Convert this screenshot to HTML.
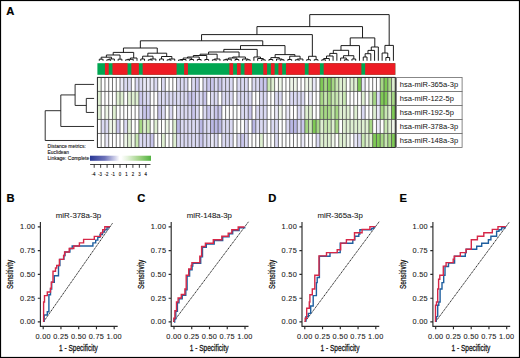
<!DOCTYPE html>
<html><head><meta charset="utf-8"><style>
html,body{margin:0;padding:0;background:#fff;width:520px;height:358px;overflow:hidden;font-family:"Liberation Sans",sans-serif;}
svg{display:block;}
</style></head><body>
<svg width="520" height="358" viewBox="0 0 520 358" font-family="Liberation Sans, sans-serif"><rect x="0" y="0" width="520" height="358" fill="#fff"/>
<rect x="97.40" y="63.2" width="297.91" height="11.6" fill="#00a651"/>
<rect x="104.94" y="63.2" width="3.77" height="11.6" fill="#ed1c24"/>
<rect x="112.48" y="63.2" width="15.08" height="11.6" fill="#ed1c24"/>
<rect x="131.34" y="63.2" width="7.54" height="11.6" fill="#ed1c24"/>
<rect x="142.65" y="63.2" width="33.94" height="11.6" fill="#ed1c24"/>
<rect x="184.13" y="63.2" width="3.77" height="11.6" fill="#ed1c24"/>
<rect x="229.38" y="63.2" width="3.77" height="11.6" fill="#ed1c24"/>
<rect x="236.93" y="63.2" width="3.77" height="11.6" fill="#ed1c24"/>
<rect x="244.47" y="63.2" width="7.54" height="11.6" fill="#ed1c24"/>
<rect x="263.32" y="63.2" width="3.77" height="11.6" fill="#ed1c24"/>
<rect x="270.87" y="63.2" width="3.77" height="11.6" fill="#ed1c24"/>
<rect x="278.41" y="63.2" width="3.77" height="11.6" fill="#ed1c24"/>
<rect x="285.95" y="63.2" width="18.86" height="11.6" fill="#ed1c24"/>
<rect x="308.58" y="63.2" width="11.31" height="11.6" fill="#ed1c24"/>
<rect x="323.66" y="63.2" width="37.71" height="11.6" fill="#ed1c24"/>
<rect x="365.14" y="63.2" width="30.17" height="11.6" fill="#ed1c24"/>
<rect x="97.40" y="77.40" width="3.77" height="14.02" fill="#eff7e9"/>
<rect x="120.03" y="77.40" width="3.77" height="14.02" fill="#eae9f8"/>
<rect x="123.80" y="77.40" width="3.77" height="14.02" fill="#dbdaf3"/>
<rect x="127.57" y="77.40" width="3.77" height="14.02" fill="#dbdaf3"/>
<rect x="135.11" y="77.40" width="3.77" height="14.02" fill="#dbdaf3"/>
<rect x="138.88" y="77.40" width="3.77" height="14.02" fill="#dbdaf3"/>
<rect x="142.65" y="77.40" width="3.77" height="14.02" fill="#eae9f8"/>
<rect x="146.42" y="77.40" width="3.77" height="14.02" fill="#eae9f8"/>
<rect x="150.19" y="77.40" width="3.77" height="14.02" fill="#eae9f8"/>
<rect x="153.97" y="77.40" width="3.77" height="14.02" fill="#dbdaf3"/>
<rect x="161.51" y="77.40" width="3.77" height="14.02" fill="#dbdaf3"/>
<rect x="176.59" y="77.40" width="3.77" height="14.02" fill="#dbdaf3"/>
<rect x="180.36" y="77.40" width="3.77" height="14.02" fill="#dbdaf3"/>
<rect x="184.13" y="77.40" width="3.77" height="14.02" fill="#dbdaf3"/>
<rect x="191.68" y="77.40" width="3.77" height="14.02" fill="#dbdaf3"/>
<rect x="195.45" y="77.40" width="3.77" height="14.02" fill="#c9c6ec"/>
<rect x="202.99" y="77.40" width="3.77" height="14.02" fill="#dbdaf3"/>
<rect x="206.76" y="77.40" width="3.77" height="14.02" fill="#c9c6ec"/>
<rect x="210.53" y="77.40" width="3.77" height="14.02" fill="#c9c6ec"/>
<rect x="214.30" y="77.40" width="3.77" height="14.02" fill="#dbdaf3"/>
<rect x="218.07" y="77.40" width="3.77" height="14.02" fill="#c9c6ec"/>
<rect x="221.84" y="77.40" width="3.77" height="14.02" fill="#dbdaf3"/>
<rect x="225.61" y="77.40" width="3.77" height="14.02" fill="#dbdaf3"/>
<rect x="229.38" y="77.40" width="3.77" height="14.02" fill="#dbdaf3"/>
<rect x="236.93" y="77.40" width="3.77" height="14.02" fill="#dbdaf3"/>
<rect x="240.70" y="77.40" width="3.77" height="14.02" fill="#dbdaf3"/>
<rect x="244.47" y="77.40" width="3.77" height="14.02" fill="#dbdaf3"/>
<rect x="252.01" y="77.40" width="3.77" height="14.02" fill="#dbdaf3"/>
<rect x="255.78" y="77.40" width="3.77" height="14.02" fill="#dbdaf3"/>
<rect x="259.55" y="77.40" width="3.77" height="14.02" fill="#c9c6ec"/>
<rect x="263.32" y="77.40" width="3.77" height="14.02" fill="#c9c6ec"/>
<rect x="267.10" y="77.40" width="3.77" height="14.02" fill="#c8e8b2"/>
<rect x="270.87" y="77.40" width="3.77" height="14.02" fill="#dff0d2"/>
<rect x="278.41" y="77.40" width="3.77" height="14.02" fill="#eff7e9"/>
<rect x="289.72" y="77.40" width="3.77" height="14.02" fill="#eff7e9"/>
<rect x="293.49" y="77.40" width="3.77" height="14.02" fill="#eff7e9"/>
<rect x="304.81" y="77.40" width="3.77" height="14.02" fill="#eff7e9"/>
<rect x="308.58" y="77.40" width="3.77" height="14.02" fill="#eff7e9"/>
<rect x="312.35" y="77.40" width="3.77" height="14.02" fill="#eae9f8"/>
<rect x="319.89" y="77.40" width="3.77" height="14.02" fill="#7fca55"/>
<rect x="323.66" y="77.40" width="3.77" height="14.02" fill="#a6d885"/>
<rect x="327.43" y="77.40" width="3.77" height="14.02" fill="#7fca55"/>
<rect x="331.20" y="77.40" width="3.77" height="14.02" fill="#a6d885"/>
<rect x="334.97" y="77.40" width="3.77" height="14.02" fill="#c8e8b2"/>
<rect x="338.74" y="77.40" width="3.77" height="14.02" fill="#dff0d2"/>
<rect x="342.51" y="77.40" width="3.77" height="14.02" fill="#dff0d2"/>
<rect x="350.06" y="77.40" width="3.77" height="14.02" fill="#dff0d2"/>
<rect x="353.83" y="77.40" width="3.77" height="14.02" fill="#dff0d2"/>
<rect x="357.60" y="77.40" width="3.77" height="14.02" fill="#7fca55"/>
<rect x="361.37" y="77.40" width="3.77" height="14.02" fill="#eae9f8"/>
<rect x="380.23" y="77.40" width="3.77" height="14.02" fill="#a6d885"/>
<rect x="384.00" y="77.40" width="3.77" height="14.02" fill="#7fca55"/>
<rect x="387.77" y="77.40" width="3.77" height="14.02" fill="#a6d885"/>
<rect x="391.54" y="77.40" width="3.77" height="14.02" fill="#dff0d2"/>
<rect x="97.40" y="91.42" width="3.77" height="14.02" fill="#dff0d2"/>
<rect x="116.26" y="91.42" width="3.77" height="14.02" fill="#dff0d2"/>
<rect x="120.03" y="91.42" width="3.77" height="14.02" fill="#dff0d2"/>
<rect x="127.57" y="91.42" width="3.77" height="14.02" fill="#dff0d2"/>
<rect x="131.34" y="91.42" width="3.77" height="14.02" fill="#dff0d2"/>
<rect x="135.11" y="91.42" width="3.77" height="14.02" fill="#dff0d2"/>
<rect x="138.88" y="91.42" width="3.77" height="14.02" fill="#c9c6ec"/>
<rect x="142.65" y="91.42" width="3.77" height="14.02" fill="#dbdaf3"/>
<rect x="146.42" y="91.42" width="3.77" height="14.02" fill="#dbdaf3"/>
<rect x="157.74" y="91.42" width="3.77" height="14.02" fill="#dbdaf3"/>
<rect x="161.51" y="91.42" width="3.77" height="14.02" fill="#dbdaf3"/>
<rect x="165.28" y="91.42" width="3.77" height="14.02" fill="#dbdaf3"/>
<rect x="169.05" y="91.42" width="3.77" height="14.02" fill="#dbdaf3"/>
<rect x="172.82" y="91.42" width="3.77" height="14.02" fill="#dbdaf3"/>
<rect x="176.59" y="91.42" width="3.77" height="14.02" fill="#dbdaf3"/>
<rect x="180.36" y="91.42" width="3.77" height="14.02" fill="#dbdaf3"/>
<rect x="184.13" y="91.42" width="3.77" height="14.02" fill="#dbdaf3"/>
<rect x="187.90" y="91.42" width="3.77" height="14.02" fill="#c9c6ec"/>
<rect x="191.68" y="91.42" width="3.77" height="14.02" fill="#c9c6ec"/>
<rect x="195.45" y="91.42" width="3.77" height="14.02" fill="#dbdaf3"/>
<rect x="199.22" y="91.42" width="3.77" height="14.02" fill="#dbdaf3"/>
<rect x="202.99" y="91.42" width="3.77" height="14.02" fill="#c9c6ec"/>
<rect x="210.53" y="91.42" width="3.77" height="14.02" fill="#dbdaf3"/>
<rect x="214.30" y="91.42" width="3.77" height="14.02" fill="#dbdaf3"/>
<rect x="221.84" y="91.42" width="3.77" height="14.02" fill="#dbdaf3"/>
<rect x="225.61" y="91.42" width="3.77" height="14.02" fill="#dbdaf3"/>
<rect x="229.38" y="91.42" width="3.77" height="14.02" fill="#dbdaf3"/>
<rect x="236.93" y="91.42" width="3.77" height="14.02" fill="#dbdaf3"/>
<rect x="240.70" y="91.42" width="3.77" height="14.02" fill="#dbdaf3"/>
<rect x="244.47" y="91.42" width="3.77" height="14.02" fill="#dbdaf3"/>
<rect x="248.24" y="91.42" width="3.77" height="14.02" fill="#dbdaf3"/>
<rect x="259.55" y="91.42" width="3.77" height="14.02" fill="#dbdaf3"/>
<rect x="263.32" y="91.42" width="3.77" height="14.02" fill="#dbdaf3"/>
<rect x="274.64" y="91.42" width="3.77" height="14.02" fill="#dbdaf3"/>
<rect x="278.41" y="91.42" width="3.77" height="14.02" fill="#dbdaf3"/>
<rect x="289.72" y="91.42" width="3.77" height="14.02" fill="#dbdaf3"/>
<rect x="293.49" y="91.42" width="3.77" height="14.02" fill="#dbdaf3"/>
<rect x="297.26" y="91.42" width="3.77" height="14.02" fill="#dbdaf3"/>
<rect x="301.03" y="91.42" width="3.77" height="14.02" fill="#dbdaf3"/>
<rect x="308.58" y="91.42" width="3.77" height="14.02" fill="#eae9f8"/>
<rect x="319.89" y="91.42" width="3.77" height="14.02" fill="#a6d885"/>
<rect x="323.66" y="91.42" width="3.77" height="14.02" fill="#c8e8b2"/>
<rect x="327.43" y="91.42" width="3.77" height="14.02" fill="#a6d885"/>
<rect x="331.20" y="91.42" width="3.77" height="14.02" fill="#c8e8b2"/>
<rect x="334.97" y="91.42" width="3.77" height="14.02" fill="#c8e8b2"/>
<rect x="338.74" y="91.42" width="3.77" height="14.02" fill="#dff0d2"/>
<rect x="342.51" y="91.42" width="3.77" height="14.02" fill="#c8e8b2"/>
<rect x="361.37" y="91.42" width="3.77" height="14.02" fill="#dff0d2"/>
<rect x="368.91" y="91.42" width="3.77" height="14.02" fill="#dff0d2"/>
<rect x="372.68" y="91.42" width="3.77" height="14.02" fill="#a6d885"/>
<rect x="376.45" y="91.42" width="3.77" height="14.02" fill="#dbdaf3"/>
<rect x="380.23" y="91.42" width="3.77" height="14.02" fill="#7fca55"/>
<rect x="384.00" y="91.42" width="3.77" height="14.02" fill="#7fca55"/>
<rect x="387.77" y="91.42" width="3.77" height="14.02" fill="#c8e8b2"/>
<rect x="391.54" y="91.42" width="3.77" height="14.02" fill="#a6d885"/>
<rect x="97.40" y="105.44" width="3.77" height="14.02" fill="#dff0d2"/>
<rect x="104.94" y="105.44" width="3.77" height="14.02" fill="#eff7e9"/>
<rect x="112.48" y="105.44" width="3.77" height="14.02" fill="#dff0d2"/>
<rect x="138.88" y="105.44" width="3.77" height="14.02" fill="#dbdaf3"/>
<rect x="142.65" y="105.44" width="3.77" height="14.02" fill="#c9c6ec"/>
<rect x="146.42" y="105.44" width="3.77" height="14.02" fill="#c9c6ec"/>
<rect x="157.74" y="105.44" width="3.77" height="14.02" fill="#c9c6ec"/>
<rect x="161.51" y="105.44" width="3.77" height="14.02" fill="#dbdaf3"/>
<rect x="169.05" y="105.44" width="3.77" height="14.02" fill="#dbdaf3"/>
<rect x="176.59" y="105.44" width="3.77" height="14.02" fill="#dbdaf3"/>
<rect x="180.36" y="105.44" width="3.77" height="14.02" fill="#dbdaf3"/>
<rect x="184.13" y="105.44" width="3.77" height="14.02" fill="#dbdaf3"/>
<rect x="187.90" y="105.44" width="3.77" height="14.02" fill="#dbdaf3"/>
<rect x="191.68" y="105.44" width="3.77" height="14.02" fill="#c9c6ec"/>
<rect x="195.45" y="105.44" width="3.77" height="14.02" fill="#dbdaf3"/>
<rect x="202.99" y="105.44" width="3.77" height="14.02" fill="#dbdaf3"/>
<rect x="206.76" y="105.44" width="3.77" height="14.02" fill="#c9c6ec"/>
<rect x="210.53" y="105.44" width="3.77" height="14.02" fill="#dbdaf3"/>
<rect x="214.30" y="105.44" width="3.77" height="14.02" fill="#c9c6ec"/>
<rect x="218.07" y="105.44" width="3.77" height="14.02" fill="#c9c6ec"/>
<rect x="240.70" y="105.44" width="3.77" height="14.02" fill="#dbdaf3"/>
<rect x="244.47" y="105.44" width="3.77" height="14.02" fill="#dbdaf3"/>
<rect x="248.24" y="105.44" width="3.77" height="14.02" fill="#c9c6ec"/>
<rect x="255.78" y="105.44" width="3.77" height="14.02" fill="#dbdaf3"/>
<rect x="259.55" y="105.44" width="3.77" height="14.02" fill="#dbdaf3"/>
<rect x="263.32" y="105.44" width="3.77" height="14.02" fill="#dbdaf3"/>
<rect x="274.64" y="105.44" width="3.77" height="14.02" fill="#eae9f8"/>
<rect x="278.41" y="105.44" width="3.77" height="14.02" fill="#eff7e9"/>
<rect x="285.95" y="105.44" width="3.77" height="14.02" fill="#eae9f8"/>
<rect x="297.26" y="105.44" width="3.77" height="14.02" fill="#dbdaf3"/>
<rect x="301.03" y="105.44" width="3.77" height="14.02" fill="#eae9f8"/>
<rect x="304.81" y="105.44" width="3.77" height="14.02" fill="#dff0d2"/>
<rect x="308.58" y="105.44" width="3.77" height="14.02" fill="#dff0d2"/>
<rect x="319.89" y="105.44" width="3.77" height="14.02" fill="#a6d885"/>
<rect x="323.66" y="105.44" width="3.77" height="14.02" fill="#a6d885"/>
<rect x="327.43" y="105.44" width="3.77" height="14.02" fill="#a6d885"/>
<rect x="331.20" y="105.44" width="3.77" height="14.02" fill="#c8e8b2"/>
<rect x="334.97" y="105.44" width="3.77" height="14.02" fill="#a6d885"/>
<rect x="338.74" y="105.44" width="3.77" height="14.02" fill="#dff0d2"/>
<rect x="342.51" y="105.44" width="3.77" height="14.02" fill="#dff0d2"/>
<rect x="346.29" y="105.44" width="3.77" height="14.02" fill="#dff0d2"/>
<rect x="353.83" y="105.44" width="3.77" height="14.02" fill="#dff0d2"/>
<rect x="361.37" y="105.44" width="3.77" height="14.02" fill="#dbdaf3"/>
<rect x="372.68" y="105.44" width="3.77" height="14.02" fill="#dff0d2"/>
<rect x="376.45" y="105.44" width="3.77" height="14.02" fill="#eae9f8"/>
<rect x="380.23" y="105.44" width="3.77" height="14.02" fill="#a6d885"/>
<rect x="384.00" y="105.44" width="3.77" height="14.02" fill="#c8e8b2"/>
<rect x="387.77" y="105.44" width="3.77" height="14.02" fill="#dff0d2"/>
<rect x="391.54" y="105.44" width="3.77" height="14.02" fill="#7fca55"/>
<rect x="101.17" y="119.46" width="3.77" height="14.02" fill="#dbdaf3"/>
<rect x="104.94" y="119.46" width="3.77" height="14.02" fill="#dbdaf3"/>
<rect x="108.71" y="119.46" width="3.77" height="14.02" fill="#eff7e9"/>
<rect x="112.48" y="119.46" width="3.77" height="14.02" fill="#eff7e9"/>
<rect x="116.26" y="119.46" width="3.77" height="14.02" fill="#c9c6ec"/>
<rect x="123.80" y="119.46" width="3.77" height="14.02" fill="#dbdaf3"/>
<rect x="127.57" y="119.46" width="3.77" height="14.02" fill="#dff0d2"/>
<rect x="138.88" y="119.46" width="3.77" height="14.02" fill="#a6d885"/>
<rect x="142.65" y="119.46" width="3.77" height="14.02" fill="#dff0d2"/>
<rect x="146.42" y="119.46" width="3.77" height="14.02" fill="#c8e8b2"/>
<rect x="153.97" y="119.46" width="3.77" height="14.02" fill="#dff0d2"/>
<rect x="165.28" y="119.46" width="3.77" height="14.02" fill="#eff7e9"/>
<rect x="172.82" y="119.46" width="3.77" height="14.02" fill="#dff0d2"/>
<rect x="176.59" y="119.46" width="3.77" height="14.02" fill="#bab8e5"/>
<rect x="180.36" y="119.46" width="3.77" height="14.02" fill="#dbdaf3"/>
<rect x="184.13" y="119.46" width="3.77" height="14.02" fill="#dbdaf3"/>
<rect x="187.90" y="119.46" width="3.77" height="14.02" fill="#dbdaf3"/>
<rect x="191.68" y="119.46" width="3.77" height="14.02" fill="#dbdaf3"/>
<rect x="195.45" y="119.46" width="3.77" height="14.02" fill="#dbdaf3"/>
<rect x="199.22" y="119.46" width="3.77" height="14.02" fill="#bab8e5"/>
<rect x="202.99" y="119.46" width="3.77" height="14.02" fill="#dbdaf3"/>
<rect x="206.76" y="119.46" width="3.77" height="14.02" fill="#dbdaf3"/>
<rect x="210.53" y="119.46" width="3.77" height="14.02" fill="#bab8e5"/>
<rect x="214.30" y="119.46" width="3.77" height="14.02" fill="#bab8e5"/>
<rect x="218.07" y="119.46" width="3.77" height="14.02" fill="#bab8e5"/>
<rect x="221.84" y="119.46" width="3.77" height="14.02" fill="#dbdaf3"/>
<rect x="225.61" y="119.46" width="3.77" height="14.02" fill="#dbdaf3"/>
<rect x="229.38" y="119.46" width="3.77" height="14.02" fill="#dbdaf3"/>
<rect x="244.47" y="119.46" width="3.77" height="14.02" fill="#dbdaf3"/>
<rect x="252.01" y="119.46" width="3.77" height="14.02" fill="#bab8e5"/>
<rect x="255.78" y="119.46" width="3.77" height="14.02" fill="#dbdaf3"/>
<rect x="259.55" y="119.46" width="3.77" height="14.02" fill="#dbdaf3"/>
<rect x="263.32" y="119.46" width="3.77" height="14.02" fill="#dbdaf3"/>
<rect x="270.87" y="119.46" width="3.77" height="14.02" fill="#dbdaf3"/>
<rect x="274.64" y="119.46" width="3.77" height="14.02" fill="#dbdaf3"/>
<rect x="285.95" y="119.46" width="3.77" height="14.02" fill="#dbdaf3"/>
<rect x="289.72" y="119.46" width="3.77" height="14.02" fill="#bab8e5"/>
<rect x="293.49" y="119.46" width="3.77" height="14.02" fill="#bab8e5"/>
<rect x="297.26" y="119.46" width="3.77" height="14.02" fill="#dbdaf3"/>
<rect x="301.03" y="119.46" width="3.77" height="14.02" fill="#c9c6ec"/>
<rect x="304.81" y="119.46" width="3.77" height="14.02" fill="#a6d885"/>
<rect x="308.58" y="119.46" width="3.77" height="14.02" fill="#c8e8b2"/>
<rect x="312.35" y="119.46" width="3.77" height="14.02" fill="#7fca55"/>
<rect x="316.12" y="119.46" width="3.77" height="14.02" fill="#a6d885"/>
<rect x="319.89" y="119.46" width="3.77" height="14.02" fill="#dff0d2"/>
<rect x="323.66" y="119.46" width="3.77" height="14.02" fill="#c8e8b2"/>
<rect x="327.43" y="119.46" width="3.77" height="14.02" fill="#c8e8b2"/>
<rect x="331.20" y="119.46" width="3.77" height="14.02" fill="#dff0d2"/>
<rect x="334.97" y="119.46" width="3.77" height="14.02" fill="#a6d885"/>
<rect x="342.51" y="119.46" width="3.77" height="14.02" fill="#dff0d2"/>
<rect x="346.29" y="119.46" width="3.77" height="14.02" fill="#dff0d2"/>
<rect x="350.06" y="119.46" width="3.77" height="14.02" fill="#dff0d2"/>
<rect x="353.83" y="119.46" width="3.77" height="14.02" fill="#dff0d2"/>
<rect x="357.60" y="119.46" width="3.77" height="14.02" fill="#dff0d2"/>
<rect x="361.37" y="119.46" width="3.77" height="14.02" fill="#dff0d2"/>
<rect x="365.14" y="119.46" width="3.77" height="14.02" fill="#dff0d2"/>
<rect x="368.91" y="119.46" width="3.77" height="14.02" fill="#a6d885"/>
<rect x="376.45" y="119.46" width="3.77" height="14.02" fill="#eae9f8"/>
<rect x="384.00" y="119.46" width="3.77" height="14.02" fill="#c8e8b2"/>
<rect x="387.77" y="119.46" width="3.77" height="14.02" fill="#dff0d2"/>
<rect x="391.54" y="119.46" width="3.77" height="14.02" fill="#eff7e9"/>
<rect x="104.94" y="133.48" width="3.77" height="14.02" fill="#eae9f8"/>
<rect x="123.80" y="133.48" width="3.77" height="14.02" fill="#eff7e9"/>
<rect x="127.57" y="133.48" width="3.77" height="14.02" fill="#dff0d2"/>
<rect x="131.34" y="133.48" width="3.77" height="14.02" fill="#eff7e9"/>
<rect x="135.11" y="133.48" width="3.77" height="14.02" fill="#c8e8b2"/>
<rect x="138.88" y="133.48" width="3.77" height="14.02" fill="#dbdaf3"/>
<rect x="142.65" y="133.48" width="3.77" height="14.02" fill="#dbdaf3"/>
<rect x="146.42" y="133.48" width="3.77" height="14.02" fill="#dbdaf3"/>
<rect x="150.19" y="133.48" width="3.77" height="14.02" fill="#c9c6ec"/>
<rect x="161.51" y="133.48" width="3.77" height="14.02" fill="#dff0d2"/>
<rect x="172.82" y="133.48" width="3.77" height="14.02" fill="#dff0d2"/>
<rect x="176.59" y="133.48" width="3.77" height="14.02" fill="#dbdaf3"/>
<rect x="180.36" y="133.48" width="3.77" height="14.02" fill="#dbdaf3"/>
<rect x="184.13" y="133.48" width="3.77" height="14.02" fill="#dbdaf3"/>
<rect x="187.90" y="133.48" width="3.77" height="14.02" fill="#dbdaf3"/>
<rect x="191.68" y="133.48" width="3.77" height="14.02" fill="#dbdaf3"/>
<rect x="195.45" y="133.48" width="3.77" height="14.02" fill="#dbdaf3"/>
<rect x="199.22" y="133.48" width="3.77" height="14.02" fill="#c9c6ec"/>
<rect x="202.99" y="133.48" width="3.77" height="14.02" fill="#dbdaf3"/>
<rect x="206.76" y="133.48" width="3.77" height="14.02" fill="#dbdaf3"/>
<rect x="210.53" y="133.48" width="3.77" height="14.02" fill="#eae9f8"/>
<rect x="214.30" y="133.48" width="3.77" height="14.02" fill="#dbdaf3"/>
<rect x="221.84" y="133.48" width="3.77" height="14.02" fill="#dbdaf3"/>
<rect x="225.61" y="133.48" width="3.77" height="14.02" fill="#dbdaf3"/>
<rect x="229.38" y="133.48" width="3.77" height="14.02" fill="#dbdaf3"/>
<rect x="236.93" y="133.48" width="3.77" height="14.02" fill="#dbdaf3"/>
<rect x="240.70" y="133.48" width="3.77" height="14.02" fill="#c9c6ec"/>
<rect x="244.47" y="133.48" width="3.77" height="14.02" fill="#dbdaf3"/>
<rect x="259.55" y="133.48" width="3.77" height="14.02" fill="#dff0d2"/>
<rect x="274.64" y="133.48" width="3.77" height="14.02" fill="#dbdaf3"/>
<rect x="301.03" y="133.48" width="3.77" height="14.02" fill="#eae9f8"/>
<rect x="316.12" y="133.48" width="3.77" height="14.02" fill="#dbdaf3"/>
<rect x="319.89" y="133.48" width="3.77" height="14.02" fill="#dff0d2"/>
<rect x="323.66" y="133.48" width="3.77" height="14.02" fill="#dff0d2"/>
<rect x="327.43" y="133.48" width="3.77" height="14.02" fill="#dff0d2"/>
<rect x="331.20" y="133.48" width="3.77" height="14.02" fill="#eff7e9"/>
<rect x="338.74" y="133.48" width="3.77" height="14.02" fill="#dff0d2"/>
<rect x="342.51" y="133.48" width="3.77" height="14.02" fill="#dff0d2"/>
<rect x="346.29" y="133.48" width="3.77" height="14.02" fill="#eff7e9"/>
<rect x="353.83" y="133.48" width="3.77" height="14.02" fill="#eae9f8"/>
<rect x="357.60" y="133.48" width="3.77" height="14.02" fill="#dbdaf3"/>
<rect x="361.37" y="133.48" width="3.77" height="14.02" fill="#c8e8b2"/>
<rect x="365.14" y="133.48" width="3.77" height="14.02" fill="#dff0d2"/>
<rect x="368.91" y="133.48" width="3.77" height="14.02" fill="#dff0d2"/>
<rect x="372.68" y="133.48" width="3.77" height="14.02" fill="#7fca55"/>
<rect x="376.45" y="133.48" width="3.77" height="14.02" fill="#7fca55"/>
<rect x="380.23" y="133.48" width="3.77" height="14.02" fill="#a6d885"/>
<rect x="384.00" y="133.48" width="3.77" height="14.02" fill="#c8e8b2"/>
<rect x="387.77" y="133.48" width="3.77" height="14.02" fill="#a6d885"/>
<rect x="391.54" y="133.48" width="3.77" height="14.02" fill="#7fca55"/>
<path d="M97.40,77.4V147.50M101.17,77.4V147.50M104.94,77.4V147.50M108.71,77.4V147.50M112.48,77.4V147.50M116.26,77.4V147.50M120.03,77.4V147.50M123.80,77.4V147.50M127.57,77.4V147.50M131.34,77.4V147.50M135.11,77.4V147.50M138.88,77.4V147.50M142.65,77.4V147.50M146.42,77.4V147.50M150.19,77.4V147.50M153.97,77.4V147.50M157.74,77.4V147.50M161.51,77.4V147.50M165.28,77.4V147.50M169.05,77.4V147.50M172.82,77.4V147.50M176.59,77.4V147.50M180.36,77.4V147.50M184.13,77.4V147.50M187.90,77.4V147.50M191.68,77.4V147.50M195.45,77.4V147.50M199.22,77.4V147.50M202.99,77.4V147.50M206.76,77.4V147.50M210.53,77.4V147.50M214.30,77.4V147.50M218.07,77.4V147.50M221.84,77.4V147.50M225.61,77.4V147.50M229.38,77.4V147.50M233.16,77.4V147.50M236.93,77.4V147.50M240.70,77.4V147.50M244.47,77.4V147.50M248.24,77.4V147.50M252.01,77.4V147.50M255.78,77.4V147.50M259.55,77.4V147.50M263.32,77.4V147.50M267.10,77.4V147.50M270.87,77.4V147.50M274.64,77.4V147.50M278.41,77.4V147.50M282.18,77.4V147.50M285.95,77.4V147.50M289.72,77.4V147.50M293.49,77.4V147.50M297.26,77.4V147.50M301.03,77.4V147.50M304.81,77.4V147.50M308.58,77.4V147.50M312.35,77.4V147.50M316.12,77.4V147.50M319.89,77.4V147.50M323.66,77.4V147.50M327.43,77.4V147.50M331.20,77.4V147.50M334.97,77.4V147.50M338.74,77.4V147.50M342.51,77.4V147.50M346.29,77.4V147.50M350.06,77.4V147.50M353.83,77.4V147.50M357.60,77.4V147.50M361.37,77.4V147.50M365.14,77.4V147.50M368.91,77.4V147.50M372.68,77.4V147.50M376.45,77.4V147.50M380.23,77.4V147.50M384.00,77.4V147.50M387.77,77.4V147.50M391.54,77.4V147.50M395.31,77.4V147.50M97.4,77.40H395.31M97.4,91.42H395.31M97.4,105.44H395.31M97.4,119.46H395.31M97.4,133.48H395.31M97.4,147.50H395.31" stroke="#4a4a4a" stroke-width="0.8" fill="none"/>
<rect x="97.4" y="77.4" width="297.91" height="70.10" fill="none" stroke="#2a2a2a" stroke-width="0.85"/>
<rect x="396.6" y="77.40" width="65.5" height="14.02" fill="#fff" stroke="#6a6a6a" stroke-width="0.8"/>
<text x="399.8" y="87.20" font-size="7.55" fill="#111">hsa-miR-365a-3p</text>
<rect x="396.6" y="91.42" width="65.5" height="14.02" fill="#fff" stroke="#6a6a6a" stroke-width="0.8"/>
<text x="399.8" y="101.22" font-size="7.55" fill="#111">hsa-miR-122-5p</text>
<rect x="396.6" y="105.44" width="65.5" height="14.02" fill="#fff" stroke="#6a6a6a" stroke-width="0.8"/>
<text x="399.8" y="115.24" font-size="7.55" fill="#111">hsa-miR-192-5p</text>
<rect x="396.6" y="119.46" width="65.5" height="14.02" fill="#fff" stroke="#6a6a6a" stroke-width="0.8"/>
<text x="399.8" y="129.26" font-size="7.55" fill="#111">hsa-miR-378a-3p</text>
<rect x="396.6" y="133.48" width="65.5" height="14.02" fill="#fff" stroke="#6a6a6a" stroke-width="0.8"/>
<text x="399.8" y="143.28" font-size="7.55" fill="#111">hsa-miR-148a-3p</text>
<path d="M99.29,60.80V59.20H103.06V60.80M106.83,60.80V59.80H110.60V60.80M108.71,59.80V59.00H114.37V60.80M101.17,59.20V57.20H111.54V59.00M118.14,60.80V59.20H121.91V60.80M106.36,57.20V55.00H120.03V59.20M125.68,60.80V59.80H129.45V60.80M127.57,59.80V59.30H133.22V60.80M130.40,59.30V58.00H137.00V60.80M113.19,55.00V52.40H133.70V58.00M140.77,60.80V59.00H144.54V60.80M148.31,60.80V59.80H152.08V60.80M150.19,59.80V59.00H155.85V60.80M142.65,59.00V56.20H153.02V59.00M159.62,60.80V59.00H163.39V60.80M167.16,60.80V59.80H170.93V60.80M169.05,59.80V59.00H174.71V60.80M161.51,59.00V56.50H171.88V59.00M147.84,56.20V53.20H166.69V56.50M123.44,52.40V48.00H157.26V53.20M178.48,60.80V60.00H182.25V60.80M180.36,60.00V59.50H186.02V60.80M189.79,60.80V59.50H193.56V60.80M183.19,59.50V58.00H191.68V59.50M197.33,60.80V59.50H201.10V60.80M187.43,58.00V57.00H199.22V59.50M204.87,60.80V59.50H208.64V60.80M193.32,57.00V55.50H206.76V59.50M212.42,60.80V59.80H216.19V60.80M214.30,59.80V59.00H219.96V60.80M200.04,55.50V54.20H217.13V59.00M223.73,60.80V59.80H227.50V60.80M225.61,59.80V59.20H231.27V60.80M235.04,60.80V59.50H238.81V60.80M228.44,59.20V58.00H236.93V59.50M246.35,60.80V59.80H250.13V60.80M242.58,60.80V59.00H248.24V59.80M232.68,58.00V57.00H245.41V59.00M208.59,54.20V52.00H239.05V57.00M261.44,60.80V59.80H265.21V60.80M257.67,60.80V58.50H263.32V59.80M253.90,60.80V57.00H260.50V58.50M223.82,52.00V49.40H257.20V57.00M268.98,60.80V59.50H272.75V60.80M280.29,60.80V59.80H284.06V60.80M276.52,60.80V59.00H282.18V59.80M270.87,59.50V57.60H279.35V59.00M287.84,60.80V59.50H291.61V60.80M295.38,60.80V59.80H299.15V60.80M297.26,59.80V59.00H302.92V60.80M289.72,59.50V56.20H300.09V59.00M275.11,57.60V54.60H294.91V56.20M240.51,49.40V45.60H285.01V54.60M140.35,48.00V40.80H262.76V45.60M306.69,60.80V59.70H310.46V60.80M314.23,60.80V59.70H318.00V60.80M308.58,59.70V56.30H316.12V59.70M201.56,40.80V34.60H312.35V56.30M321.77,60.80V59.80H325.55V60.80M323.66,59.80V58.50H329.32V60.80M326.49,58.50V56.00H333.09V60.80M329.79,56.00V53.40H336.86V60.80M344.40,60.80V59.80H348.17V60.80M340.63,60.80V58.00H346.29V59.80M351.94,60.80V59.00H355.71V60.80M343.46,58.00V55.70H353.83V59.00M333.32,53.40V50.30H348.64V55.70M340.98,50.30V45.60H359.48V60.80M363.26,60.80V57.00H367.03V60.80M365.14,57.00V53.70H370.80V60.80M367.97,53.70V50.40H374.57V60.80M371.27,50.40V47.00H378.34V60.80M350.23,45.60V37.90H374.80V47.00M256.95,34.60V26.60H362.52V37.90M385.88,60.80V57.50H389.65V60.80M382.11,60.80V53.00H387.77V57.50M384.94,53.00V45.40H393.42V60.80M309.74,26.60V14.60H389.18V45.40" stroke="#111" stroke-width="0.95" fill="none"/>
<path d="M94.1,98.43H86.3V112.45H94.1M86.3,105.44H75.1M94.1,84.41H75.1V105.44M75.1,94.93H60.8M94.1,126.47H60.8V94.93M60.8,110.70H45.2M94.1,140.49H45.2V110.70" stroke="#1a1a1a" stroke-width="0.9" fill="none"/>
<text x="47.6" y="147.8" font-size="5.0" fill="#111" stroke="#111" stroke-width="0.1" textLength="38.2" lengthAdjust="spacingAndGlyphs">Distance metrics:</text>
<text x="47.6" y="153.6" font-size="5.0" fill="#111" stroke="#111" stroke-width="0.1" textLength="21.4" lengthAdjust="spacingAndGlyphs">Euclidean</text>
<text x="47.6" y="159.6" font-size="5.0" fill="#111" stroke="#111" stroke-width="0.1" textLength="41.6" lengthAdjust="spacingAndGlyphs">Linkage: Complete</text>
<defs><linearGradient id="gb" x1="0" x2="1"><stop offset="0" stop-color="#283795"/><stop offset="0.5" stop-color="#6d72b9"/><stop offset="0.85" stop-color="#d0d1ea"/><stop offset="1" stop-color="#ffffff"/></linearGradient><linearGradient id="gg" x1="0" x2="1"><stop offset="0" stop-color="#ffffff"/><stop offset="0.2" stop-color="#e6f3de"/><stop offset="0.6" stop-color="#a2d387"/><stop offset="1" stop-color="#52b340"/></linearGradient></defs>
<rect x="90" y="155.7" width="29.5" height="5.1" fill="url(#gb)"/>
<rect x="121.2" y="155.7" width="29.8" height="5.1" fill="url(#gg)"/>
<path d="M90.1,164.5H150.5M94.20,164.5V167.8M100.65,164.5V167.8M107.10,164.5V167.8M113.55,164.5V167.8M120.00,164.5V167.8M126.45,164.5V167.8M132.90,164.5V167.8M139.35,164.5V167.8M145.80,164.5V167.8" stroke="#111" stroke-width="0.8" fill="none"/>
<text x="0" y="0" font-size="6.0" text-anchor="end" fill="#111" stroke="#111" stroke-width="0.15" transform="translate(95.45,175.6) scale(0.72,1)">-4</text>
<text x="0" y="0" font-size="6.0" text-anchor="end" fill="#111" stroke="#111" stroke-width="0.15" transform="translate(101.90,175.6) scale(0.72,1)">-3</text>
<text x="0" y="0" font-size="6.0" text-anchor="end" fill="#111" stroke="#111" stroke-width="0.15" transform="translate(108.35,175.6) scale(0.72,1)">-2</text>
<text x="0" y="0" font-size="6.0" text-anchor="end" fill="#111" stroke="#111" stroke-width="0.15" transform="translate(114.80,175.6) scale(0.72,1)">-1</text>
<text x="0" y="0" font-size="6.0" text-anchor="middle" fill="#111" stroke="#111" stroke-width="0.15" transform="translate(120.00,175.6) scale(0.72,1)">0</text>
<text x="0" y="0" font-size="6.0" text-anchor="middle" fill="#111" stroke="#111" stroke-width="0.15" transform="translate(126.45,175.6) scale(0.72,1)">1</text>
<text x="0" y="0" font-size="6.0" text-anchor="middle" fill="#111" stroke="#111" stroke-width="0.15" transform="translate(132.90,175.6) scale(0.72,1)">2</text>
<text x="0" y="0" font-size="6.0" text-anchor="middle" fill="#111" stroke="#111" stroke-width="0.15" transform="translate(139.35,175.6) scale(0.72,1)">3</text>
<text x="0" y="0" font-size="6.0" text-anchor="middle" fill="#111" stroke="#111" stroke-width="0.15" transform="translate(145.80,175.6) scale(0.72,1)">4</text>
<text x="6.2" y="15.0" font-size="11.2" font-weight="bold" fill="#000" stroke="#000" stroke-width="0.2">A</text>
<text x="6.4" y="202.2" font-size="11.2" font-weight="bold" fill="#000" stroke="#000" stroke-width="0.2">B</text>
<text x="137.3" y="202.2" font-size="11.2" font-weight="bold" fill="#000" stroke="#000" stroke-width="0.2">C</text>
<text x="268.2" y="202.2" font-size="11.2" font-weight="bold" fill="#000" stroke="#000" stroke-width="0.2">D</text>
<text x="399.4" y="202.2" font-size="11.2" font-weight="bold" fill="#000" stroke="#000" stroke-width="0.2">E</text>
<path d="M40.40,222V326.4H117.70M37.80,321.9H40.4M37.80,298.2H40.4M37.80,274.4H40.4M37.80,250.6H40.4M37.80,226.9H40.4M43.20,326.4V329.2M60.95,326.4V329.2M78.70,326.4V329.2M96.45,326.4V329.2M114.20,326.4V329.2" stroke="#2a2a2a" stroke-width="1.15" fill="none"/>
<text x="35.50" y="324.40" font-size="7.35" letter-spacing="0.3" text-anchor="end" fill="#1a1a1a" stroke="#1a1a1a" stroke-width="0.08">0.00</text>
<text x="35.50" y="300.70" font-size="7.35" letter-spacing="0.3" text-anchor="end" fill="#1a1a1a" stroke="#1a1a1a" stroke-width="0.08">0.25</text>
<text x="35.50" y="276.90" font-size="7.35" letter-spacing="0.3" text-anchor="end" fill="#1a1a1a" stroke="#1a1a1a" stroke-width="0.08">0.50</text>
<text x="35.50" y="253.10" font-size="7.35" letter-spacing="0.3" text-anchor="end" fill="#1a1a1a" stroke="#1a1a1a" stroke-width="0.08">0.75</text>
<text x="35.50" y="229.40" font-size="7.35" letter-spacing="0.3" text-anchor="end" fill="#1a1a1a" stroke="#1a1a1a" stroke-width="0.08">1.00</text>
<text x="43.20" y="338.5" font-size="7.35" letter-spacing="0.3" text-anchor="middle" fill="#1a1a1a" stroke="#1a1a1a" stroke-width="0.08">0.00</text>
<text x="60.95" y="338.5" font-size="7.35" letter-spacing="0.3" text-anchor="middle" fill="#1a1a1a" stroke="#1a1a1a" stroke-width="0.08">0.25</text>
<text x="78.70" y="338.5" font-size="7.35" letter-spacing="0.3" text-anchor="middle" fill="#1a1a1a" stroke="#1a1a1a" stroke-width="0.08">0.50</text>
<text x="96.45" y="338.5" font-size="7.35" letter-spacing="0.3" text-anchor="middle" fill="#1a1a1a" stroke="#1a1a1a" stroke-width="0.08">0.75</text>
<text x="114.20" y="338.5" font-size="7.35" letter-spacing="0.3" text-anchor="middle" fill="#1a1a1a" stroke="#1a1a1a" stroke-width="0.08">1.00</text>
<text x="0" y="0" font-size="8.4" text-anchor="middle" fill="#111" stroke="#111" stroke-width="0.25" transform="translate(78.40,351) scale(0.78,1)">1 - Specificity</text>
<text x="0" y="0" font-size="8.2" text-anchor="middle" fill="#111" stroke="#111" stroke-width="0.25" transform="translate(13.10,274.4) rotate(-90) scale(0.79,1)">Sensitivity</text>
<text x="78.50" y="218.4" font-size="7.85" text-anchor="middle" fill="#1a1a1a" stroke="#1a1a1a" stroke-width="0.08">miR-378a-3p</text>
<line x1="43.4" y1="322" x2="112.5" y2="223.2" stroke="#111" stroke-width="0.9" stroke-dasharray="1.3,0.6"/>
<path d="M44.2,322V315H47.3V311.8H48.9V294.7H50.5V289H51.7V282.3H54.3V275.8H58.5V265.5H59.9V259.4H63.9V255.5H65V252H69.9V248.5H72.2V246H92.9V242.9H95.7V240.1H97.8V237.3H100V234.5H102.5V232H104.5V229.8H107V227.5H110" stroke="#1f5f9f" stroke-width="1.4" fill="none"/>
<path d="M43.6,322V302H44.5V295.6H47.3V292H50.5V288.3H51.3V282.3H53V271.2H55.5V268H56.7V265.5H59.4V259.4H63.6V255.5H64.6V252H69.2V248.5H73.8V246H79.4V242.9H83.6V239.4H94.3V236.4H100.6V232.9H102.7V229.7H104.8V226.8H110" stroke="#d62848" stroke-width="1.4" fill="none"/>
<path d="M171.20,222V326.4H248.50M168.60,321.9H171.20000000000002M168.60,298.2H171.20000000000002M168.60,274.4H171.20000000000002M168.60,250.6H171.20000000000002M168.60,226.9H171.20000000000002M174.00,326.4V329.2M191.75,326.4V329.2M209.50,326.4V329.2M227.25,326.4V329.2M245.00,326.4V329.2" stroke="#2a2a2a" stroke-width="1.15" fill="none"/>
<text x="166.30" y="324.40" font-size="7.35" letter-spacing="0.3" text-anchor="end" fill="#1a1a1a" stroke="#1a1a1a" stroke-width="0.08">0.00</text>
<text x="166.30" y="300.70" font-size="7.35" letter-spacing="0.3" text-anchor="end" fill="#1a1a1a" stroke="#1a1a1a" stroke-width="0.08">0.25</text>
<text x="166.30" y="276.90" font-size="7.35" letter-spacing="0.3" text-anchor="end" fill="#1a1a1a" stroke="#1a1a1a" stroke-width="0.08">0.50</text>
<text x="166.30" y="253.10" font-size="7.35" letter-spacing="0.3" text-anchor="end" fill="#1a1a1a" stroke="#1a1a1a" stroke-width="0.08">0.75</text>
<text x="166.30" y="229.40" font-size="7.35" letter-spacing="0.3" text-anchor="end" fill="#1a1a1a" stroke="#1a1a1a" stroke-width="0.08">1.00</text>
<text x="174.00" y="338.5" font-size="7.35" letter-spacing="0.3" text-anchor="middle" fill="#1a1a1a" stroke="#1a1a1a" stroke-width="0.08">0.00</text>
<text x="191.75" y="338.5" font-size="7.35" letter-spacing="0.3" text-anchor="middle" fill="#1a1a1a" stroke="#1a1a1a" stroke-width="0.08">0.25</text>
<text x="209.50" y="338.5" font-size="7.35" letter-spacing="0.3" text-anchor="middle" fill="#1a1a1a" stroke="#1a1a1a" stroke-width="0.08">0.50</text>
<text x="227.25" y="338.5" font-size="7.35" letter-spacing="0.3" text-anchor="middle" fill="#1a1a1a" stroke="#1a1a1a" stroke-width="0.08">0.75</text>
<text x="245.00" y="338.5" font-size="7.35" letter-spacing="0.3" text-anchor="middle" fill="#1a1a1a" stroke="#1a1a1a" stroke-width="0.08">1.00</text>
<text x="0" y="0" font-size="8.4" text-anchor="middle" fill="#111" stroke="#111" stroke-width="0.25" transform="translate(209.20,351) scale(0.78,1)">1 - Specificity</text>
<text x="0" y="0" font-size="8.2" text-anchor="middle" fill="#111" stroke="#111" stroke-width="0.25" transform="translate(143.90,274.4) rotate(-90) scale(0.79,1)">Sensitivity</text>
<text x="209.30" y="218.4" font-size="7.85" text-anchor="middle" fill="#1a1a1a" stroke="#1a1a1a" stroke-width="0.08">miR-148a-3p</text>
<line x1="173.3" y1="322" x2="248.7" y2="221.5" stroke="#111" stroke-width="0.9" stroke-dasharray="1.3,0.6"/>
<path d="M173.8,322V318.2H174.9V310.7H176.5V302H178.1V298H181.3V294.5H184.9V289H186.2V275.3H188.7V269H191.2V265.4H191.9V262.6H199.8V256.2H201.6V246.5H205.4V243.3H213.3V239.8H221.8V236.2H228.2V233.1H231.8V229.8H238.2V227H244.5" transform="translate(0.9,0.7)" stroke="#1f5f9f" stroke-width="1.4" fill="none"/>
<path d="M173.8,322V318.2H174.9V310.7H176.5V302H178.1V298H181.3V294.5H184.9V289H186.2V275.3H188.7V269H191.2V265.4H191.9V262.6H199.8V256.2H201.6V246.5H205.4V243.3H213.3V239.8H221.8V236.2H228.2V233.1H231.8V229.8H238.2V227H244.5" stroke="#d62848" stroke-width="1.4" fill="none"/>
<path d="M302.00,222V326.4H379.30M299.40,321.9H302.0M299.40,298.2H302.0M299.40,274.4H302.0M299.40,250.6H302.0M299.40,226.9H302.0M304.80,326.4V329.2M322.55,326.4V329.2M340.30,326.4V329.2M358.05,326.4V329.2M375.80,326.4V329.2" stroke="#2a2a2a" stroke-width="1.15" fill="none"/>
<text x="297.10" y="324.40" font-size="7.35" letter-spacing="0.3" text-anchor="end" fill="#1a1a1a" stroke="#1a1a1a" stroke-width="0.08">0.00</text>
<text x="297.10" y="300.70" font-size="7.35" letter-spacing="0.3" text-anchor="end" fill="#1a1a1a" stroke="#1a1a1a" stroke-width="0.08">0.25</text>
<text x="297.10" y="276.90" font-size="7.35" letter-spacing="0.3" text-anchor="end" fill="#1a1a1a" stroke="#1a1a1a" stroke-width="0.08">0.50</text>
<text x="297.10" y="253.10" font-size="7.35" letter-spacing="0.3" text-anchor="end" fill="#1a1a1a" stroke="#1a1a1a" stroke-width="0.08">0.75</text>
<text x="297.10" y="229.40" font-size="7.35" letter-spacing="0.3" text-anchor="end" fill="#1a1a1a" stroke="#1a1a1a" stroke-width="0.08">1.00</text>
<text x="304.80" y="338.5" font-size="7.35" letter-spacing="0.3" text-anchor="middle" fill="#1a1a1a" stroke="#1a1a1a" stroke-width="0.08">0.00</text>
<text x="322.55" y="338.5" font-size="7.35" letter-spacing="0.3" text-anchor="middle" fill="#1a1a1a" stroke="#1a1a1a" stroke-width="0.08">0.25</text>
<text x="340.30" y="338.5" font-size="7.35" letter-spacing="0.3" text-anchor="middle" fill="#1a1a1a" stroke="#1a1a1a" stroke-width="0.08">0.50</text>
<text x="358.05" y="338.5" font-size="7.35" letter-spacing="0.3" text-anchor="middle" fill="#1a1a1a" stroke="#1a1a1a" stroke-width="0.08">0.75</text>
<text x="375.80" y="338.5" font-size="7.35" letter-spacing="0.3" text-anchor="middle" fill="#1a1a1a" stroke="#1a1a1a" stroke-width="0.08">1.00</text>
<text x="0" y="0" font-size="8.4" text-anchor="middle" fill="#111" stroke="#111" stroke-width="0.25" transform="translate(340.00,351) scale(0.78,1)">1 - Specificity</text>
<text x="0" y="0" font-size="8.2" text-anchor="middle" fill="#111" stroke="#111" stroke-width="0.25" transform="translate(274.70,274.4) rotate(-90) scale(0.79,1)">Sensitivity</text>
<text x="340.10" y="218.4" font-size="7.85" text-anchor="middle" fill="#1a1a1a" stroke="#1a1a1a" stroke-width="0.08">miR-365a-3p</text>
<line x1="304.8" y1="322" x2="379.3" y2="221.5" stroke="#111" stroke-width="0.9" stroke-dasharray="1.3,0.6"/>
<path d="M305.9,322V316.6H308.3V313.4H310.7V306H313.2V295.6H316.4V282.6H317.2V277.5H319.4V256.2H330V252.6H340.2V243.3H352.8V239.8H354.8V236.2H358.8V234H359.9V229.8H371.5V228.5H373.5V227H375.3" stroke="#1f5f9f" stroke-width="1.4" fill="none"/>
<path d="M305.2,322V318.2H306.7V308.3H309.3V302H309.9V294.7H312.3V289H314.8V275.3H319V255.9H326.5V252.6H337.2V249.8H340.7V243.1H346.4V239.8H354.5V232.7H362.1V229.4H369.9V226.6H375.3" stroke="#d62848" stroke-width="1.4" fill="none"/>
<path d="M432.90,222V326.4H510.20M430.30,321.9H432.9M430.30,298.2H432.9M430.30,274.4H432.9M430.30,250.6H432.9M430.30,226.9H432.9M435.70,326.4V329.2M453.45,326.4V329.2M471.20,326.4V329.2M488.95,326.4V329.2M506.70,326.4V329.2" stroke="#2a2a2a" stroke-width="1.15" fill="none"/>
<text x="428.00" y="324.40" font-size="7.35" letter-spacing="0.3" text-anchor="end" fill="#1a1a1a" stroke="#1a1a1a" stroke-width="0.08">0.00</text>
<text x="428.00" y="300.70" font-size="7.35" letter-spacing="0.3" text-anchor="end" fill="#1a1a1a" stroke="#1a1a1a" stroke-width="0.08">0.25</text>
<text x="428.00" y="276.90" font-size="7.35" letter-spacing="0.3" text-anchor="end" fill="#1a1a1a" stroke="#1a1a1a" stroke-width="0.08">0.50</text>
<text x="428.00" y="253.10" font-size="7.35" letter-spacing="0.3" text-anchor="end" fill="#1a1a1a" stroke="#1a1a1a" stroke-width="0.08">0.75</text>
<text x="428.00" y="229.40" font-size="7.35" letter-spacing="0.3" text-anchor="end" fill="#1a1a1a" stroke="#1a1a1a" stroke-width="0.08">1.00</text>
<text x="435.70" y="338.5" font-size="7.35" letter-spacing="0.3" text-anchor="middle" fill="#1a1a1a" stroke="#1a1a1a" stroke-width="0.08">0.00</text>
<text x="453.45" y="338.5" font-size="7.35" letter-spacing="0.3" text-anchor="middle" fill="#1a1a1a" stroke="#1a1a1a" stroke-width="0.08">0.25</text>
<text x="471.20" y="338.5" font-size="7.35" letter-spacing="0.3" text-anchor="middle" fill="#1a1a1a" stroke="#1a1a1a" stroke-width="0.08">0.50</text>
<text x="488.95" y="338.5" font-size="7.35" letter-spacing="0.3" text-anchor="middle" fill="#1a1a1a" stroke="#1a1a1a" stroke-width="0.08">0.75</text>
<text x="506.70" y="338.5" font-size="7.35" letter-spacing="0.3" text-anchor="middle" fill="#1a1a1a" stroke="#1a1a1a" stroke-width="0.08">1.00</text>
<text x="0" y="0" font-size="8.4" text-anchor="middle" fill="#111" stroke="#111" stroke-width="0.25" transform="translate(470.90,351) scale(0.78,1)">1 - Specificity</text>
<text x="0" y="0" font-size="8.2" text-anchor="middle" fill="#111" stroke="#111" stroke-width="0.25" transform="translate(405.60,274.4) rotate(-90) scale(0.79,1)">Sensitivity</text>
<line x1="435.4" y1="322" x2="509.3" y2="222.1" stroke="#111" stroke-width="0.9" stroke-dasharray="1.3,0.6"/>
<path d="M436.3,322V316.6H437.7V305.3H438.8V302H440.1V289H442V282.6H443.7V275.3H445V266.5H448.5V263H454.6V256.2H465.3V252.6H466.3V249.3H476.7V246.2H481.7V243.3H488.4V239.8H490.9V236.2H496.6V231.3H499V229.8H501.6V227.7H505.9" stroke="#1f5f9f" stroke-width="1.4" fill="none"/>
<path d="M435.5,322V305.3H436.5V302H437.7V289H438.6V279.3H439.8V275.3H443.3V266.1H446.1V262.6H453.2V259.3H454.2V256.2H460.3V252.6H466V249.3H471.3V239.8H477.4V236.2H483.8V232.7H492.3V229.4H498V226.6H505.9" stroke="#d62848" stroke-width="1.4" fill="none"/>
<rect x="0.5" y="0.5" width="519" height="357" fill="none" stroke="#000" stroke-width="1.2"/></svg>
</body></html>
